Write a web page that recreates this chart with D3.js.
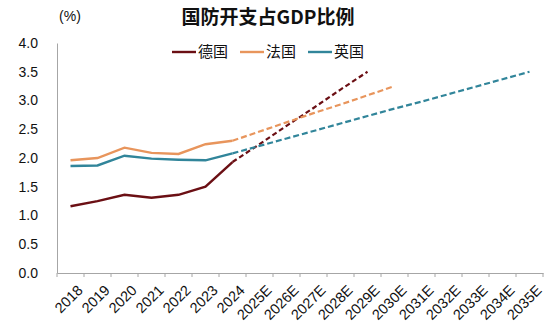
<!DOCTYPE html>
<html lang="zh">
  <head>
    <meta charset="utf-8">
    <script src="https://cdn.jsdelivr.net/npm/d3@7"></script>
    <style>
      body { margin: 0; background: #fff; }
      svg { display: block; font-family: "Liberation Sans", Arial, sans-serif; }
      .cjk { font-family: "Liberation Sans", "Noto Sans CJK SC", sans-serif; }
      .title { font-family: "Noto Sans CJK SC", sans-serif; }
    </style>
  </head>
  <body>
    <svg id="chart" width="550" height="336"></svg>
    <script>

      // categories and series
      var years = ["2018", "2019", "2020", "2021", "2022", "2023", "2024",
                   "2025E", "2026E", "2027E", "2028E", "2029E", "2030E",
                   "2031E", "2032E", "2033E", "2034E", "2035E"];

      var germany = [1.16, 1.25, 1.36, 1.31, 1.36, 1.50, 1.93,
                     2.24, 2.56, 2.87, 3.19, 3.50];
      var france = [1.96, 2.00, 2.18, 2.09, 2.07, 2.24, 2.30,
                    2.46, 2.62, 2.78, 2.93, 3.09, 3.25];
      var uk = [1.86, 1.87, 2.04, 1.99, 1.97, 1.96, 2.08,
                2.21, 2.34, 2.47, 2.60, 2.73, 2.86, 2.98, 3.11, 3.24, 3.37, 3.50];

      var yTicks = [0, 0.5, 1, 1.5, 2, 2.5, 3, 3.5, 4];
      var lastActual = 6; // index of 2024

      var series = [
        {name: "德国", values: germany, color: "#6b0f14", dash: "5,3"},
        {name: "法国", values: france, color: "#e8955c", dash: "6,3"},
        {name: "英国", values: uk, color: "#31859a", dash: "6,3"}
      ];

      var svg = d3.select("#chart"),
          plotLeft = 57, plotRight = 543, plotTop = 43, plotBottom = 273;

      var x = d3.scaleBand()
            .domain(years)
            .range([plotLeft, plotRight]),
          y = d3.scaleLinear()
            .domain([0, 4])
            .range([plotBottom, plotTop]);

      function cx(i) {
        return x(years[i]) + x.bandwidth() / 2;
      }

      svg.append("text")
        .attr("class", "title")
        .attr("x", 268)
        .attr("y", 24)
        .attr("text-anchor", "middle")
        .attr("font-size", 19)
        .attr("font-weight", "bold")
        .attr("fill", "#111")
        .text("国防开支占GDP比例");

      svg.append("text")
        .attr("x", 70)
        .attr("y", 21)
        .attr("text-anchor", "middle")
        .attr("font-size", 14)
        .attr("fill", "#111")
        .text("(%)");

      // y axis
      var yAxis = svg.append("g")
        .attr("transform", "translate(" + plotLeft + ",0)")
        .call(d3.axisLeft(y).tickValues(yTicks).tickFormat(d3.format(".1f")).tickSize(0).tickPadding(19));
      yAxis.select(".domain").attr("stroke", "#a6a6a6");
      yAxis.selectAll("text").attr("font-size", 14).attr("fill", "#111");

      // x axis
      var xAxis = svg.append("g")
        .attr("transform", "translate(0," + plotBottom + ")")
        .call(d3.axisBottom(x).tickSize(0).tickFormat(""));
      xAxis.select(".domain").attr("stroke", "#a6a6a6");
      xAxis.selectAll(".tick").remove();

      svg.append("g").selectAll("line")
        .data(d3.range(years.length + 1))
        .join("line")
          .attr("x1", function(i) { return plotLeft + i * x.step(); })
          .attr("x2", function(i) { return plotLeft + i * x.step(); })
          .attr("y1", plotBottom)
          .attr("y2", plotBottom + 4)
          .attr("stroke", "#a6a6a6");

      svg.append("g").selectAll("text")
        .data(years)
        .join("text")
          .attr("transform", function(d) {
            return "translate(" + (x(d) + x.bandwidth() / 2 + 6) + "," + (plotBottom + 11) + ") rotate(-45)";
          })
          .attr("text-anchor", "end")
          .attr("dy", "0.7em")
          .attr("font-size", 14.5)
          .attr("fill", "#111")
          .text(function(d) { return d; });

      // lines
      var line = d3.line()
        .x(function(d) { return cx(d.i); })
        .y(function(d) { return y(d.v); });

      series.forEach(function(s) {
        var pts = s.values.map(function(v, i) { return {i: i, v: v}; });
        svg.append("path")
          .datum(pts.slice(lastActual))
          .attr("d", line)
          .attr("fill", "none")
          .attr("stroke", s.color)
          .attr("stroke-width", 2.2)
          .attr("stroke-dasharray", s.dash);
        svg.append("path")
          .datum(pts.slice(0, lastActual + 1))
          .attr("d", line)
          .attr("fill", "none")
          .attr("stroke", s.color)
          .attr("stroke-width", 2.4);
      });

      // legend
      var legendX = [172, 240, 308];
      var legend = svg.append("g").selectAll("g")
        .data(series)
        .join("g")
          .attr("transform", function(d, i) { return "translate(" + legendX[i] + ",52)"; });
      legend.append("line")
        .attr("x1", 0).attr("x2", 24)
        .attr("stroke", function(d) { return d.color; })
        .attr("stroke-width", 2.4);
      legend.append("text")
        .attr("class", "cjk")
        .attr("x", 26)
        .attr("dy", "0.36em")
        .attr("font-size", 15)
        .attr("fill", "#111")
        .text(function(d) { return d.name; });

    </script>
  </body>
</html>
